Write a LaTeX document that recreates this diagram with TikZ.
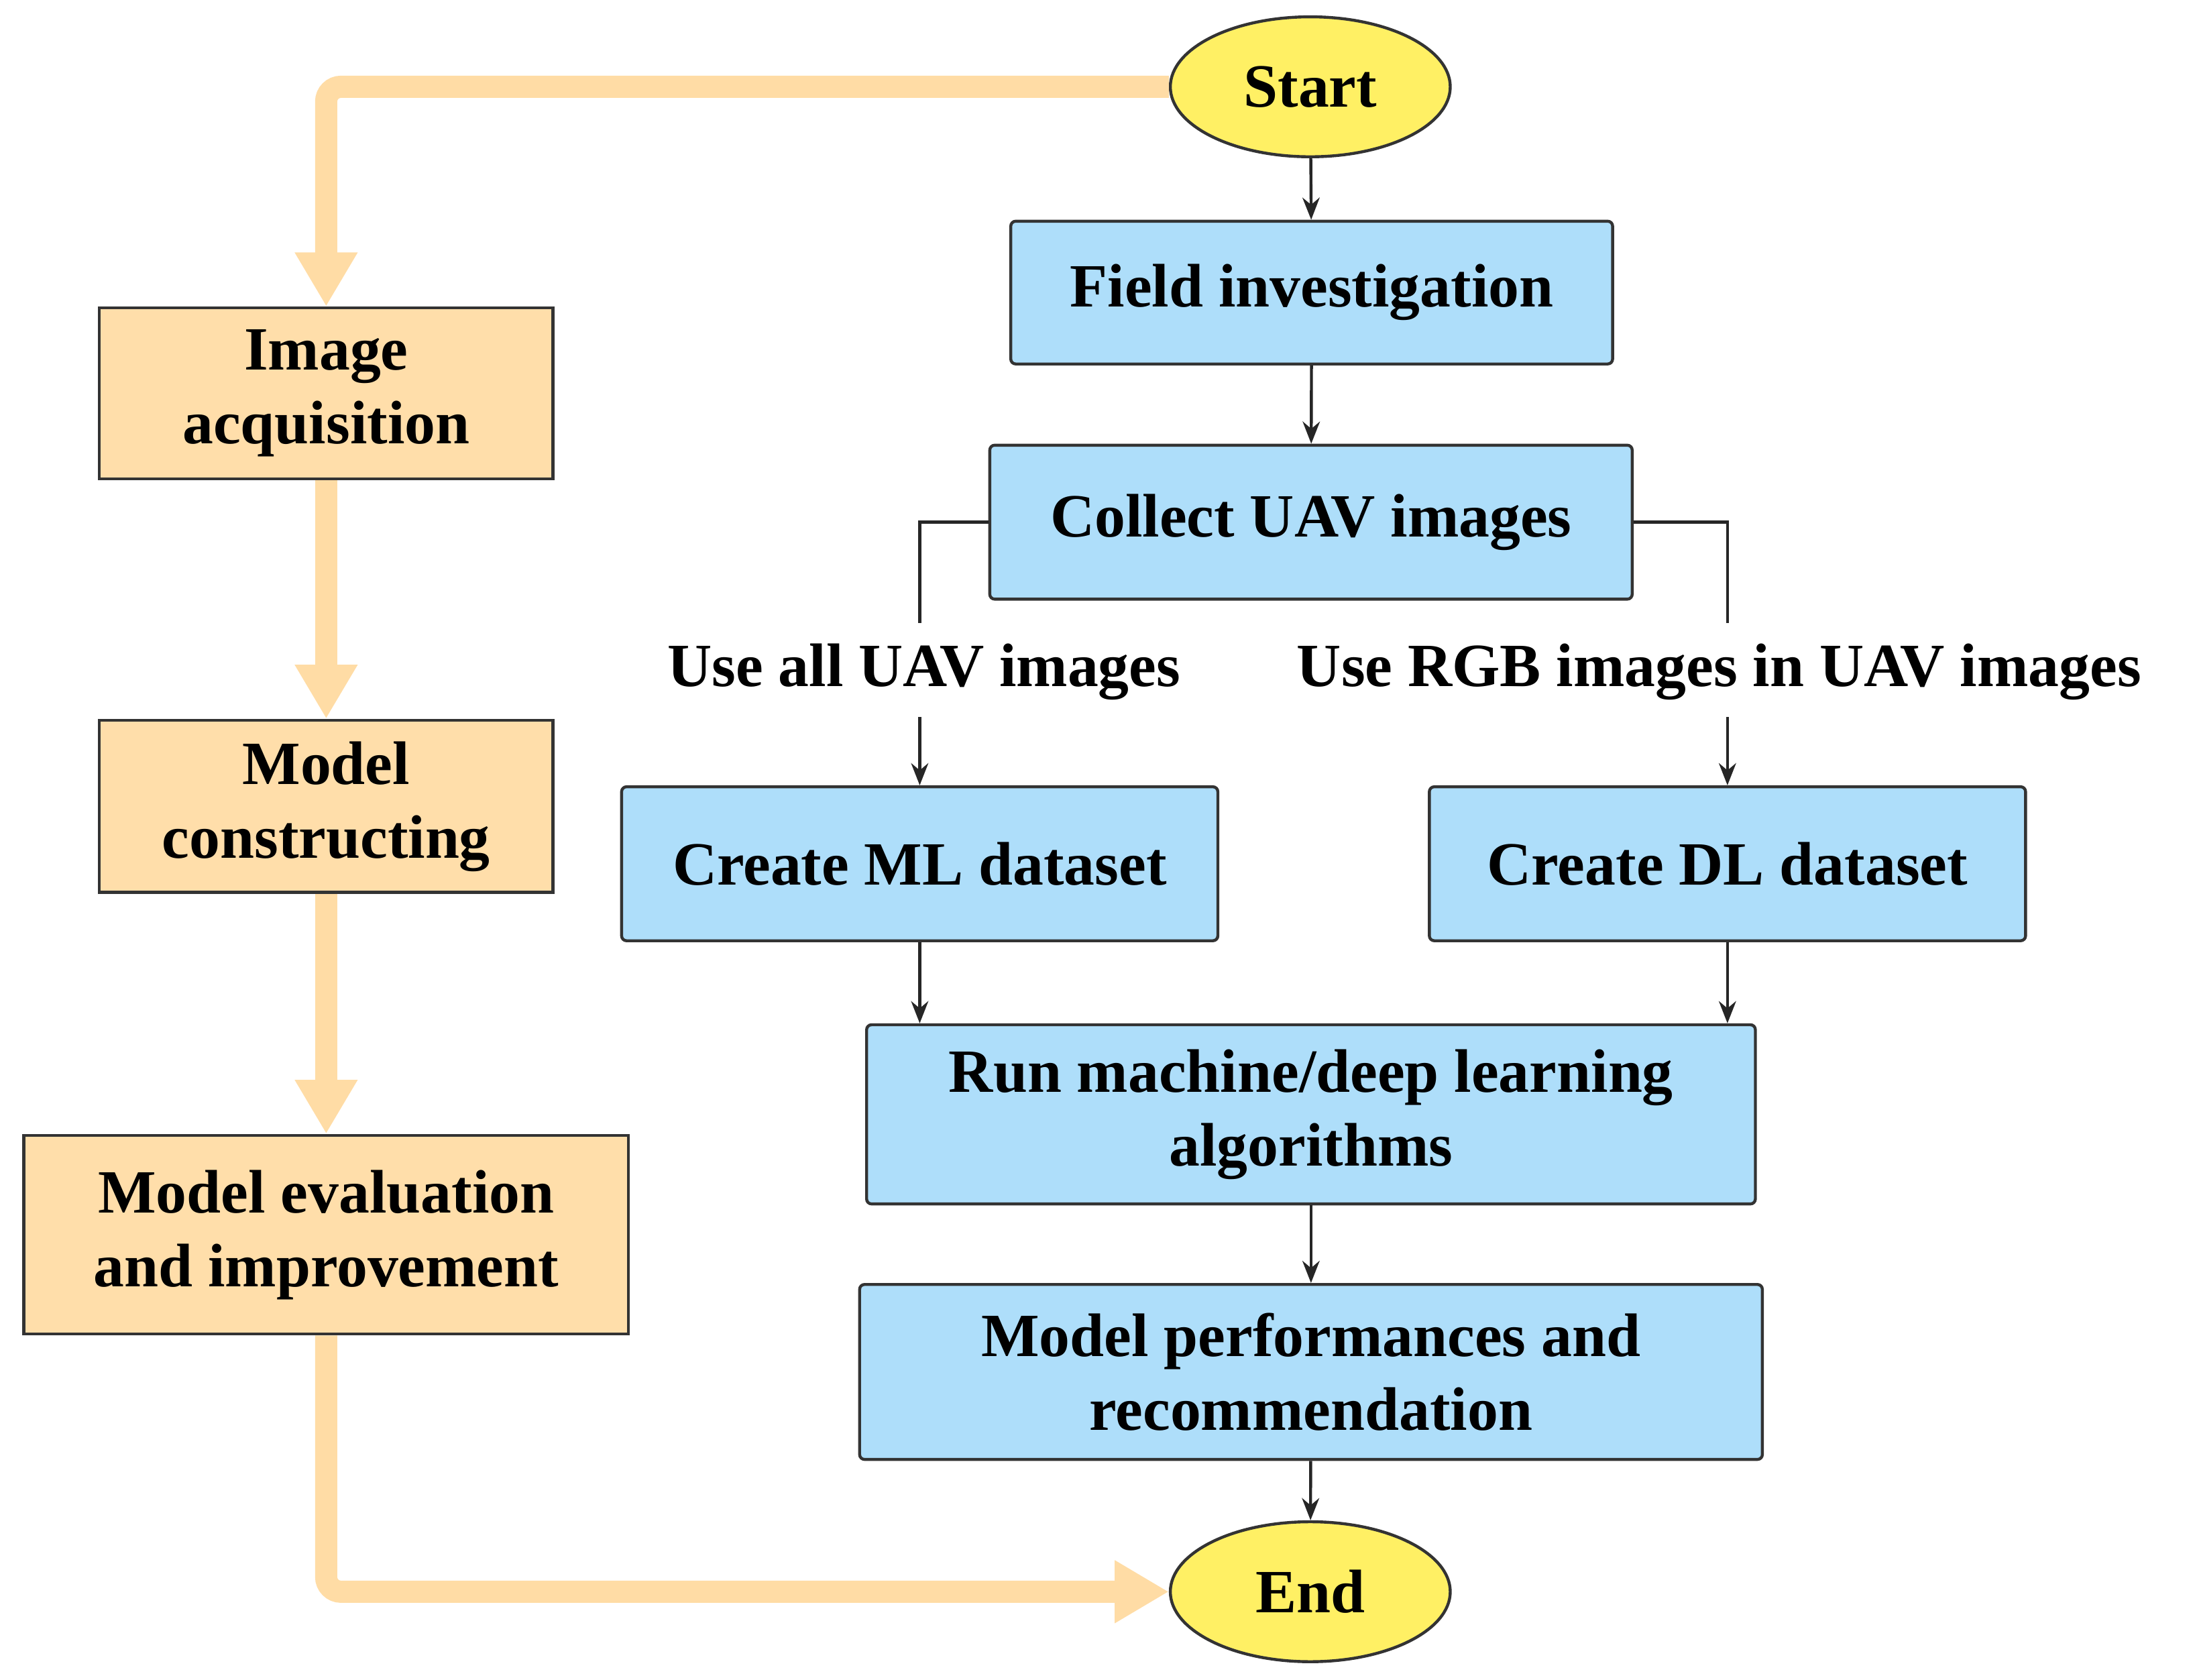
\documentclass[tikz,border=0pt]{standalone}
\usepackage{fontspec}
\setmainfont{Liberation Serif}
\usetikzlibrary{shapes.geometric,arrows.meta}
\definecolor{bl}{RGB}{174,222,250}
\definecolor{or}{RGB}{255,222,170}
\definecolor{ol}{RGB}{255,220,165}
\definecolor{ye}{RGB}{255,240,100}
\begin{document}
\begin{tikzpicture}[x=0.02cm,y=-0.02cm,
 box/.style={draw=black!80,line width=1.2pt,rounded corners=2pt,fill=bl,font=\fontsize{25}{30}\selectfont\bfseries,align=center,inner sep=0pt},
 obox/.style={draw=black!80,line width=1.2pt,fill=or,font=\fontsize{25}{30}\selectfont\bfseries,align=center,inner sep=0pt},
 ell/.style={ellipse,draw=black!80,line width=1.2pt,fill=ye,minimum width=4cm,minimum height=2cm,font=\fontsize{25}{30}\selectfont\bfseries},
 lab/.style={font=\fontsize{25}{30}\selectfont\bfseries},
 ar/.style={-{Stealth[length=9pt,width=7pt]},line width=1.2pt,black!85},
 ln/.style={line width=1.2pt,black!85},
 oar/.style={-{Triangle[length=22pt,width=24pt]},line width=9pt,ol}]
\useasboundingbox (0,0) rectangle (1568,1200);
\node[ell] (start) at (936,62) {Start};
\node[ell] (end) at (936,1137) {End};
\node[box,minimum width=8.6cm,minimum height=2.04cm] (fi) at (937,209) {Field investigation};
\node[box,minimum width=9.18cm,minimum height=2.2cm] (cu) at (936.5,373) {Collect UAV images};
\node[box,minimum width=8.52cm,minimum height=2.2cm] (ml) at (657,617) {Create ML dataset};
\node[box,minimum width=8.52cm,minimum height=2.2cm] (dl) at (1234,617) {Create DL dataset};
\node[box,minimum width=12.7cm,minimum height=2.56cm] (run) at (936.5,796) {Run machine/deep learning\\algorithms};
\node[box,minimum width=12.9cm,minimum height=2.5cm] (mp) at (936.5,980) {Model performances and\\recommendation};
\node[obox,minimum width=6.48cm,minimum height=2.44cm] (ia) at (233,281) {Image\\acquisition};
\node[obox,minimum width=6.48cm,minimum height=2.46cm] (mc) at (233,576) {Model\\constructing};
\node[obox,minimum width=8.64cm,minimum height=2.84cm] (me) at (233,882) {Model evaluation\\and improvement};
\node[lab] (l1) at (660,480) {Use all UAV images};
\node[lab] (l2) at (1228,480) {Use RGB images in UAV images};
\draw[ar] (start) -- (fi);
\draw[ar] (fi) -- (cu);
\draw[ln] (cu.west) -| (657,445);
\draw[ln] (cu.east) -| (1234,445);
\draw[ar] (657,512) -- (ml.north);
\draw[ar] (1234,512) -- (dl.north);
\draw[ar] (ml.south) -- (ml.south |- run.north);
\draw[ar] (dl.south) -- (dl.south |- run.north);
\draw[ar] (run) -- (mp);
\draw[ar] (mp) -- (end);
\begin{scope}[on background layer/.style={}]
\draw[oar,rounded corners=6pt] (start.west) -| (ia.north);
\draw[oar] (ia.south) -- (mc.north);
\draw[oar] (mc.south) -- (me.north);
\draw[oar,rounded corners=6pt] (me.south) |- (end.west);
\end{scope}
\end{tikzpicture}
\end{document}
